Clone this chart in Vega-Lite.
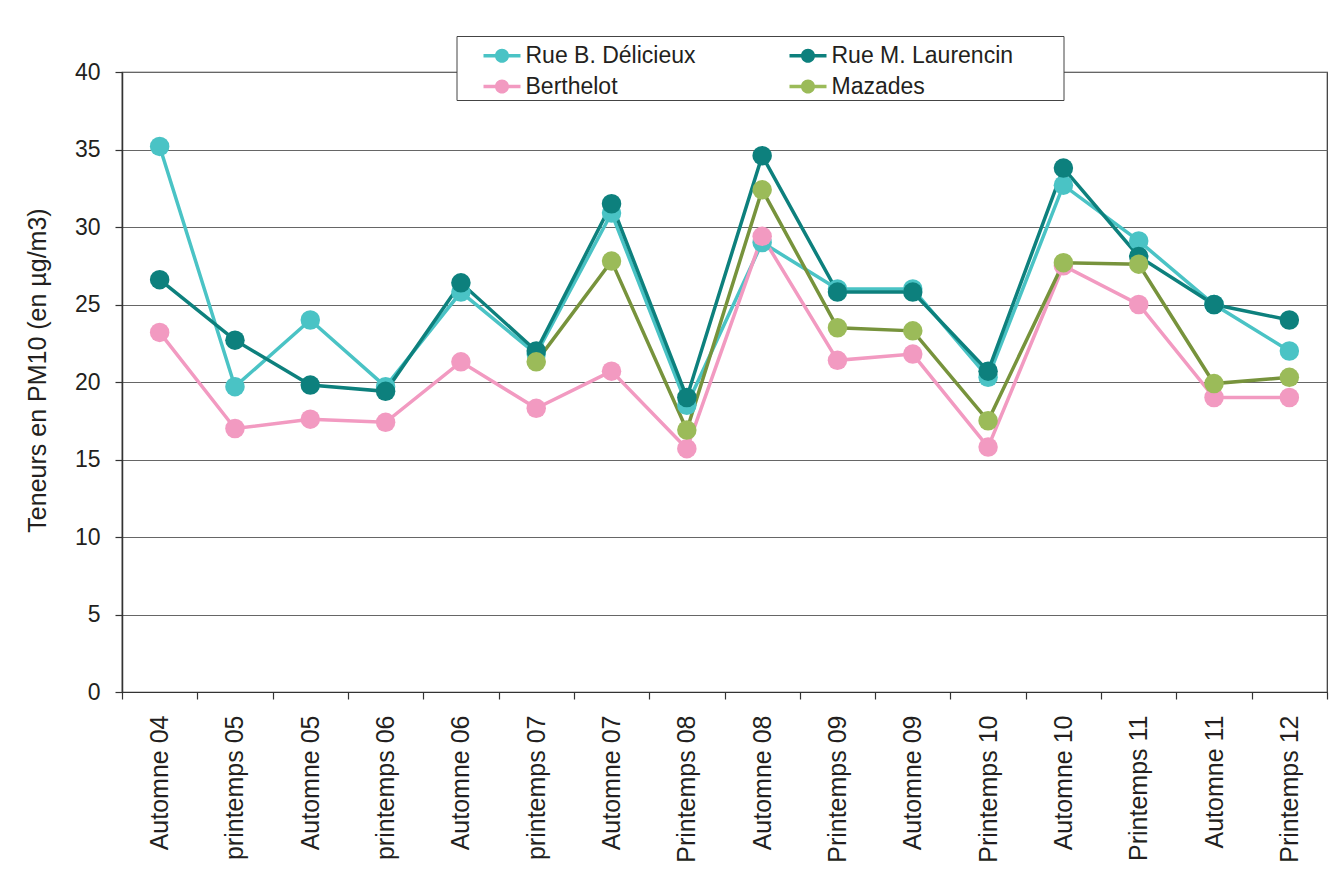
{
  "$schema": "https://vega.github.io/schema/vega-lite/v6.json",
  "autosize": "none",
  "width": 1205,
  "height": 620,
  "padding": {"left": 122, "top": 72, "right": 11, "bottom": 187},
  "background": "white",
  "config": {
    "font": "Liberation Sans",
    "view": {"stroke": "#333333", "strokeWidth": 1.2},
    "axis": {"labelColor": "#231F20", "titleColor": "#231F20", "labelFont": "Liberation Sans", "titleFont": "Liberation Sans"}
  },
  "data": {
    "values": [
      {"cat": "Automne 04", "series": "Rue B. Délicieux", "value": 35.2},
      {"cat": "printemps 05", "series": "Rue B. Délicieux", "value": 19.7},
      {"cat": "Automne 05", "series": "Rue B. Délicieux", "value": 24.0},
      {"cat": "printemps 06", "series": "Rue B. Délicieux", "value": 19.7},
      {"cat": "Automne 06", "series": "Rue B. Délicieux", "value": 25.8},
      {"cat": "printemps 07", "series": "Rue B. Délicieux", "value": 21.8},
      {"cat": "Automne 07", "series": "Rue B. Délicieux", "value": 30.9},
      {"cat": "Printemps 08", "series": "Rue B. Délicieux", "value": 18.5},
      {"cat": "Automne 08", "series": "Rue B. Délicieux", "value": 29.0},
      {"cat": "Printemps 09", "series": "Rue B. Délicieux", "value": 26.0},
      {"cat": "Automne 09", "series": "Rue B. Délicieux", "value": 26.0},
      {"cat": "Printemps 10", "series": "Rue B. Délicieux", "value": 20.3},
      {"cat": "Automne 10", "series": "Rue B. Délicieux", "value": 32.7},
      {"cat": "Printemps 11", "series": "Rue B. Délicieux", "value": 29.1},
      {"cat": "Automne 11", "series": "Rue B. Délicieux", "value": 25.0},
      {"cat": "Printemps 12", "series": "Rue B. Délicieux", "value": 22.0},

      {"cat": "Automne 04", "series": "Rue M. Laurencin", "value": 26.6},
      {"cat": "printemps 05", "series": "Rue M. Laurencin", "value": 22.7},
      {"cat": "Automne 05", "series": "Rue M. Laurencin", "value": 19.8},
      {"cat": "printemps 06", "series": "Rue M. Laurencin", "value": 19.4},
      {"cat": "Automne 06", "series": "Rue M. Laurencin", "value": 26.4},
      {"cat": "printemps 07", "series": "Rue M. Laurencin", "value": 22.0},
      {"cat": "Automne 07", "series": "Rue M. Laurencin", "value": 31.5},
      {"cat": "Printemps 08", "series": "Rue M. Laurencin", "value": 19.0},
      {"cat": "Automne 08", "series": "Rue M. Laurencin", "value": 34.6},
      {"cat": "Printemps 09", "series": "Rue M. Laurencin", "value": 25.8},
      {"cat": "Automne 09", "series": "Rue M. Laurencin", "value": 25.8},
      {"cat": "Printemps 10", "series": "Rue M. Laurencin", "value": 20.7},
      {"cat": "Automne 10", "series": "Rue M. Laurencin", "value": 33.8},
      {"cat": "Printemps 11", "series": "Rue M. Laurencin", "value": 28.1},
      {"cat": "Automne 11", "series": "Rue M. Laurencin", "value": 25.0},
      {"cat": "Printemps 12", "series": "Rue M. Laurencin", "value": 24.0},

      {"cat": "Automne 04", "series": "Berthelot", "value": 23.2},
      {"cat": "printemps 05", "series": "Berthelot", "value": 17.0},
      {"cat": "Automne 05", "series": "Berthelot", "value": 17.6},
      {"cat": "printemps 06", "series": "Berthelot", "value": 17.4},
      {"cat": "Automne 06", "series": "Berthelot", "value": 21.3},
      {"cat": "printemps 07", "series": "Berthelot", "value": 18.3},
      {"cat": "Automne 07", "series": "Berthelot", "value": 20.7},
      {"cat": "Printemps 08", "series": "Berthelot", "value": 15.7},
      {"cat": "Automne 08", "series": "Berthelot", "value": 29.4},
      {"cat": "Printemps 09", "series": "Berthelot", "value": 21.4},
      {"cat": "Automne 09", "series": "Berthelot", "value": 21.8},
      {"cat": "Printemps 10", "series": "Berthelot", "value": 15.8},
      {"cat": "Automne 10", "series": "Berthelot", "value": 27.5},
      {"cat": "Printemps 11", "series": "Berthelot", "value": 25.0},
      {"cat": "Automne 11", "series": "Berthelot", "value": 19.0},
      {"cat": "Printemps 12", "series": "Berthelot", "value": 19.0},

      {"cat": "printemps 07", "series": "Mazades", "value": 21.3},
      {"cat": "Automne 07", "series": "Mazades", "value": 27.8},
      {"cat": "Printemps 08", "series": "Mazades", "value": 16.9},
      {"cat": "Automne 08", "series": "Mazades", "value": 32.4},
      {"cat": "Printemps 09", "series": "Mazades", "value": 23.5},
      {"cat": "Automne 09", "series": "Mazades", "value": 23.3},
      {"cat": "Printemps 10", "series": "Mazades", "value": 17.5},
      {"cat": "Automne 10", "series": "Mazades", "value": 27.7},
      {"cat": "Printemps 11", "series": "Mazades", "value": 27.6},
      {"cat": "Automne 11", "series": "Mazades", "value": 19.9},
      {"cat": "Printemps 12", "series": "Mazades", "value": 20.3}
    ]
  },
  "encoding": {
    "x": {
      "field": "cat",
      "type": "nominal",
      "sort": ["Automne 04", "printemps 05", "Automne 05", "printemps 06", "Automne 06", "printemps 07", "Automne 07", "Printemps 08", "Automne 08", "Printemps 09", "Automne 09", "Printemps 10", "Automne 10", "Printemps 11", "Automne 11", "Printemps 12"],
      "scale": {"paddingInner": 0, "paddingOuter": 0},
      "axis": {
        "title": null,
        "labelAngle": 270,
        "labelAlign": "right",
        "labelBaseline": "middle",
        "labelFontSize": 25,
        "labelPadding": 16,
        "tickBand": "extent",
        "tickSize": 7,
        "tickColor": "#333333",
        "tickWidth": 1.2,
        "domainColor": "#333333",
        "domainWidth": 1.2,
        "grid": false
      }
    },
    "y": {
      "field": "value",
      "type": "quantitative",
      "scale": {"domain": [0, 40], "nice": false, "zero": true},
      "axis": {
        "title": "Teneurs en PM10 (en µg/m3)",
        "titleFontSize": 25,
        "titleFontWeight": "normal",
        "titlePadding": 24,
        "titleY": 298,
        "values": [0, 5, 10, 15, 20, 25, 30, 35, 40],
        "labelFontSize": 23,
        "labelPadding": 15,
        "tickSize": 7,
        "tickColor": "#333333",
        "tickWidth": 1.2,
        "domainColor": "#333333",
        "domainWidth": 1.5,
        "grid": true,
        "gridColor": "#666666",
        "gridWidth": 1.2
      }
    }
  },
  "layer": [
    {
      "mark": {"type": "line", "strokeWidth": 3.5},
      "encoding": {
        "stroke": {
          "field": "series",
          "type": "nominal",
          "scale": {
            "domain": ["Mazades", "Berthelot", "Rue M. Laurencin", "Rue B. Délicieux"],
            "range": ["#77933C", "#F29AC1", "#0D807D", "#4AC3C5"]
          },
          "legend": null
        }
      }
    },
    {
      "mark": {"type": "point", "filled": true, "opacity": 1, "size": 380, "shape": "circle", "strokeWidth": 0},
      "encoding": {
        "fill": {
          "field": "series",
          "type": "nominal",
          "scale": {
            "domain": ["Rue B. Délicieux", "Rue M. Laurencin", "Berthelot", "Mazades"],
            "range": ["#4AC3C5", "#0D807D", "#F29AC1", "#9BBB59"]
          },
          "legend": {
            "title": "\u00a0",
            "titleOrient": "right",
            "titlePadding": 49,
            "titleFontSize": 10,
            "orient": "none",
            "legendX": 334.5,
            "legendY": -36,
            "direction": "horizontal",
            "columns": 2,
            "columnPadding": 67,
            "rowPadding": -2,
            "padding": 1,
            "fillColor": "white",
            "strokeColor": "#444444",
            "symbolType": "M-1,-0.09H1V0.09H-1Z M0.38,0A0.38,0.38 0 1 1 -0.38,0A0.38,0.38 0 1 1 0.38,0Z",
            "symbolSize": 1369,
            "symbolStrokeWidth": 0,
            "symbolOffset": 26,
            "symbolOpacity": 1,
            "labelOffset": 5,
            "labelFontSize": 23,
            "labelFont": "Liberation Sans",
            "labelColor": "#231F20",
            "labelLimit": 400
          }
        }
      }
    }
  ]
}
